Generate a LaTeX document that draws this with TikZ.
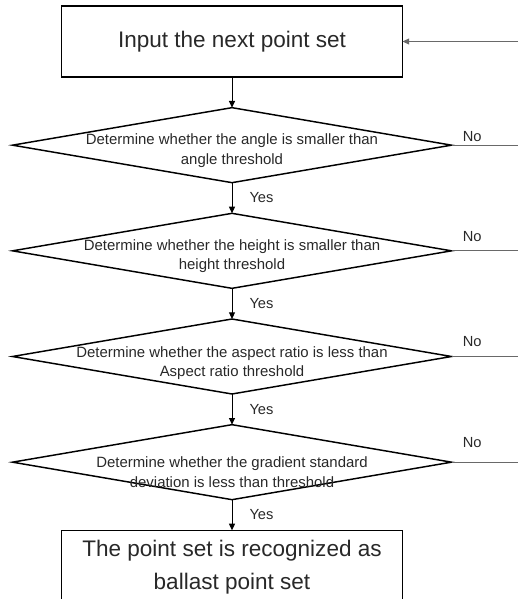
\documentclass[tikz,border=0pt]{standalone}
\usepackage{fontspec}
\setmainfont{Liberation Sans}
\usetikzlibrary{shapes.geometric, arrows.meta, positioning, calc}
\definecolor{textgray}{RGB}{40,40,40}
\definecolor{linegray}{RGB}{105,105,105}
\tikzset{
  base/.style={draw=black, line width=1.1pt, align=center, text=textgray,
               inner sep=0pt, outer sep=0pt},
  procbox/.style  = {base, rectangle, minimum width=255.75pt, minimum height=53.25pt,
                     font=\fontsize{16.9}{24.75}\selectfont},
  decision/.style = {base, diamond, minimum width=329.25pt, minimum height=56.25pt},
  dtext/.style    = {align=center, text=textgray, inner sep=0pt,
                     font=\fontsize{11.2}{14.5}\selectfont},
  lbl/.style      = {text=textgray, inner sep=0pt, font=\fontsize{11}{13}\selectfont},
  arr/.style      = {-{Triangle[length=5pt, width=4.5pt]}, line width=0.75pt, color=black},
  noline/.style   = {line width=0.75pt, color=linegray},
}
\begin{document}
\begin{tikzpicture}[node distance=23pt]
  \useasboundingbox (-174pt,31.125pt) rectangle (214.5pt,-418.125pt);

  % Start
  \node[procbox] (input) at (0,0) {Input the next point set};

  % Decisions
  \node[decision, below=of input]  (angle)  {};
  \node[decision, below=of angle]  (height) {};
  \node[decision, below=of height] (aspect) {};
  \node[decision, below=of aspect] (grad)   {};

  \node[dtext] (angletxt)  at ([yshift=-4pt]angle.center)  {Determine whether the angle is smaller than\\angle threshold};
  \node[dtext] (heighttxt) at ([yshift=-4pt]height.center) {Determine whether the height is smaller than\\height threshold};
  \node[dtext] (aspecttxt) at ([yshift=-5pt]aspect.center) {Determine whether the aspect ratio is less than\\Aspect ratio threshold};
  \node[dtext] (gradtxt)   at ([yshift=-7.5pt]grad.center) {Determine whether the gradient standard\\deviation is less than threshold};

  % Result
  \node[procbox, minimum height=55pt, below=of grad] (ballast) {The point set is recognized as\\ballast point set};

  % Yes path
  \draw[arr] (input)  -- (angle);
  \draw[arr] (angle)  -- node[lbl, right=12.75pt]{Yes} (height);
  \draw[arr] (height) -- node[lbl, right=12.75pt]{Yes} (aspect);
  \draw[arr] (aspect) -- node[lbl, right=12.75pt]{Yes} (grad);
  \draw[arr] (grad)   -- node[lbl, right=12.75pt]{Yes} (ballast);

  % No branches run off to the right edge
  \coordinate (rim) at (214.5pt,0);
  \foreach \d/\r in {angle/6.75pt, height/10.5pt, aspect/11.25pt, grad/15pt}{
    \coordinate (\d-out) at (\d.east -| rim);
    \draw[noline] (\d.east) -- (\d-out);
    \node[lbl, anchor=west] (\d-no) at ([xshift=8.25pt, yshift=\r]\d.east) {No};
  }

  % Loop back into the input box
  \coordinate (loopin) at (input.east -| rim);
  \draw[arr, color=linegray] (loopin) -- (input.east);

\end{tikzpicture}
\end{document}
